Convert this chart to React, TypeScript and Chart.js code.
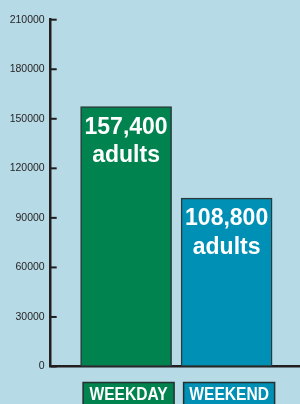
import React, { useEffect, useRef } from "react";
import { Chart, registerables } from "chart.js";

Chart.register(...registerables);

const categories = ["WEEKDAY", "WEEKEND"];
const positions = [1, 2];
const values = [157400, 102000];
const valueLabels = ["157,400", "108,800"];
const unitLabel = "adults";
const yTicks = [0, 30000, 60000, 90000, 120000, 150000, 180000, 210000];

const BG = "#b6dae6";
const barColors = ["#00834f", "#0090b5"];
const DARK = "#231f20";

const decorPlugin = {
  id: "decor",
  afterDatasetsDraw(chart: any) {
    const ctx = chart.ctx;
    const area = chart.chartArea;
    const yScale = chart.scales.y;
    ctx.save();
    ctx.strokeStyle = DARK;
    ctx.lineWidth = 2;
    yScale.ticks.forEach((t: any) => {
      const py = yScale.getPixelForValue(t.value);
      ctx.beginPath();
      ctx.moveTo(area.left, py);
      ctx.lineTo(area.left + 6, py);
      ctx.stroke();
    });
    ctx.restore();

    const meta = chart.getDatasetMeta(0);
    meta.data.forEach((bar: any, i: number) => {
      ctx.save();
      ctx.fillStyle = "#ffffff";
      ctx.textAlign = "center";
      ctx.textBaseline = "alphabetic";
      ctx.font = "bold 23px 'Liberation Sans', Arial, sans-serif";
      ctx.fillText(valueLabels[i], bar.x, bar.y + 27);
      ctx.fillText(unitLabel, bar.x, bar.y + 55.5);
      ctx.restore();

      const cx = bar.x + 2.5;
      const w = 91;
      const top = 382.5;
      ctx.save();
      ctx.fillStyle = barColors[i];
      ctx.strokeStyle = "#25302f";
      ctx.lineWidth = 1.5;
      ctx.fillRect(cx - w / 2, top, w, 30);
      ctx.strokeRect(cx - w / 2, top, w, 30);
      ctx.fillStyle = "#ffffff";
      ctx.textAlign = "center";
      ctx.textBaseline = "alphabetic";
      ctx.font = "bold 19px 'Liberation Sans', Arial, sans-serif";
      ctx.translate(cx, 400);
      ctx.scale(0.82, 1);
      ctx.fillText(categories[i], 0, 0);
      ctx.restore();
    });
  },
};

export default function App() {
  const ref = useRef<HTMLCanvasElement | null>(null);

  useEffect(() => {
    if (!ref.current) return;
    const chart = new Chart(ref.current, {
      type: "bar",
      data: {
        datasets: [
          {
            data: positions.map((x, i) => ({ x, y: values[i] })),
            backgroundColor: barColors,
            borderColor: "#2b3a3c",
            borderWidth: 1.5,
            borderSkipped: false,
            barThickness: 91,
          },
        ],
      },
      options: {
        animation: false,
        responsive: false,
        maintainAspectRatio: false,
        events: [],
        layout: { padding: { top: 19.7, bottom: 37.5, left: 0, right: 0 } },
        plugins: { legend: { display: false }, tooltip: { enabled: false } },
        scales: {
          x: {
            type: "linear",
            offset: false,
            bounds: "ticks",
            min: 0.25,
            max: 2.73,
            grid: { display: false, drawTicks: false, offset: false },
            ticks: { display: false },
            border: { display: true, color: DARK, width: 2.5 },
            afterFit: (s: any) => {
              s.height = 0;
            },
          },
          y: {
            min: 0,
            max: 210000,
            afterBuildTicks: (s: any) => {
              s.ticks = yTicks.map((v) => ({ value: v }));
            },
            grid: { display: false, drawTicks: false },
            border: { display: true, color: DARK, width: 2.5 },
            ticks: {
              padding: 6,
              color: DARK,
              font: { family: "'Liberation Sans', Arial, sans-serif", size: 10.5 },
              callback: (v: any) => String(v),
            },
            afterFit: (s: any) => {
              s.width = 50.7;
            },
          },
        },
      },
      plugins: [decorPlugin],
    });
    return () => chart.destroy();
  }, []);

  return (
    <div
      style={{
        position: "absolute",
        left: 0,
        top: 0,
        width: 300,
        height: 404,
        background: BG,
        overflow: "hidden",
      }}
    >
      <canvas ref={ref} width={300} height={404} style={{ display: "block" }} />
    </div>
  );
}
